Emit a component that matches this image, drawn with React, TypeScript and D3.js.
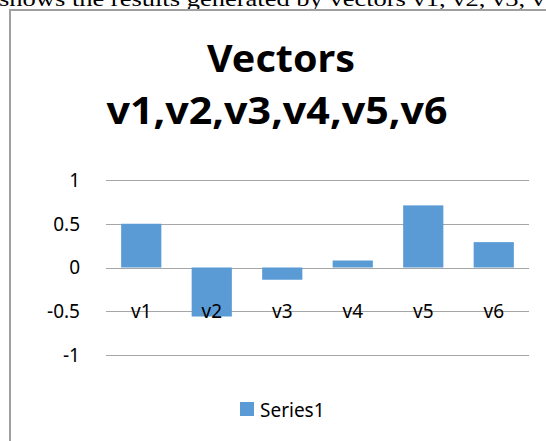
import * as d3 from "d3";

const categories = ["v1", "v2", "v3", "v4", "v5", "v6"];
const series1 = [0.5, -0.56, -0.14, 0.08, 0.71, 0.29];
const yTicks = [1, 0.5, 0, -0.5, -1];
const titleLines = ["Vectors", "v1,v2,v3,v4,v5,v6"];
const seriesName = "Series1";
const captionText = "shows the results generated by vectors v1, v2, v3, v";

const W = 546;
const H = 441;
const font = "'Noto Sans', 'Open Sans', sans-serif";

export default function App() {
  // plot area
  const x = d3
    .scaleBand()
    .domain(categories)
    .range([106, 529])
    .paddingInner(0.43)
    .paddingOuter(0.215);

  const y = d3.scaleLinear().domain([-1, 1]).range([355, 180]);

  return (
    <svg
      width={W}
      height={H}
      style={{ position: "absolute", left: 0, top: 0, background: "#fff" }}
    >
      {/* page text cut off at the top */}
      <text
        x={-1}
        y={6}
        fontFamily="'Liberation Serif', 'Times New Roman', serif"
        fontSize={22}
        textLength={546}
        lengthAdjust="spacingAndGlyphs"
        fill="#000"
      >
        {captionText}
      </text>

      {/* chart frame (only top and left edges visible) */}
      <path d={`M10,${H} V10 H${W}`} fill="none" stroke="#a0a0a0" strokeWidth={2} />

      {/* title */}
      <text
        x={281}
        y={72}
        textAnchor="middle"
        fontFamily={font}
        fontWeight="bold"
        fontSize={38}
        textLength={148}
        lengthAdjust="spacingAndGlyphs"
        fill="#000"
      >
        {titleLines[0]}
      </text>
      <text
        x={277}
        y={124}
        textAnchor="middle"
        fontFamily={font}
        fontWeight="bold"
        fontSize={38}
        textLength={341}
        lengthAdjust="spacingAndGlyphs"
        fill="#000"
      >
        {titleLines[1]}
      </text>

      {/* gridlines + y tick labels */}
      {yTicks.map((t) => (
        <g key={t}>
          <line
            x1={106}
            x2={529}
            y1={Math.round(y(t)) + 0.5}
            y2={Math.round(y(t)) + 0.5}
            stroke="#a6a6a6"
            strokeWidth={1}
          />
          <text
            x={80}
            y={y(t)}
            dy="0.36em"
            textAnchor="end"
            fontFamily={font}
            fontSize={19}
            fill="#000"
          >
            {String(t)}
          </text>
        </g>
      ))}

      {/* bars */}
      {categories.map((c, i) => {
        const v = series1[i];
        return (
          <rect
            key={c}
            x={x(c)!}
            y={Math.min(y(v), y(0))}
            width={x.bandwidth()}
            height={Math.abs(y(v) - y(0))}
            fill="#5b9bd5"
          />
        );
      })}

      {/* category labels */}
      {categories.map((c) => (
        <text
          key={c}
          x={x(c)! + x.bandwidth() / 2}
          y={318}
          textAnchor="middle"
          fontFamily={font}
          fontSize={19}
          fill="#000"
        >
          {c}
        </text>
      ))}

      {/* legend */}
      <rect x={240} y={402} width={14} height={14} fill="#5b9bd5" />
      <text x={260} y={416.5} fontFamily={font} fontSize={19} fill="#000">
        {seriesName}
      </text>
    </svg>
  );
}
